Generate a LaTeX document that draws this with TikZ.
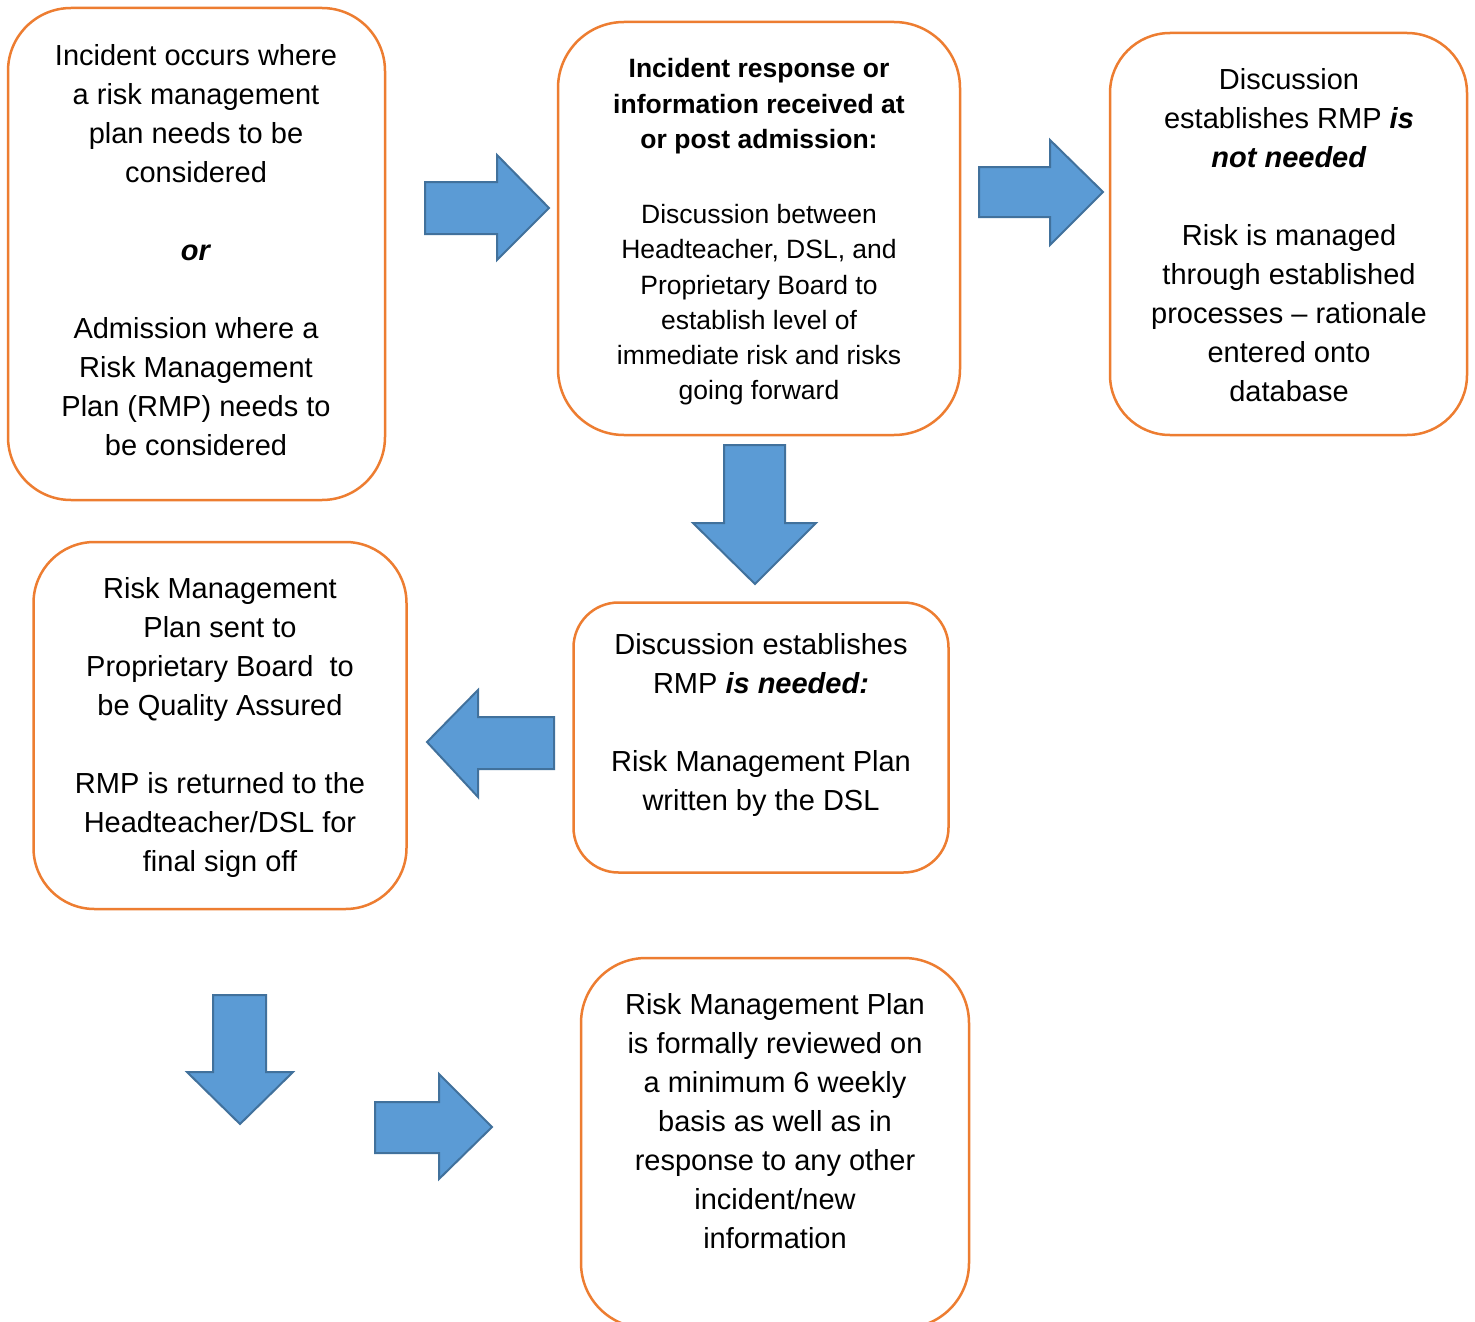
\documentclass[tikz,border=0pt]{standalone}
\usepackage{fontspec}
\setmainfont{Liberation Sans}
\definecolor{boxorange}{HTML}{ED7D31}
\definecolor{arrowfill}{HTML}{5B9BD5}
\definecolor{arrowline}{HTML}{41719C}
\begin{document}
\begin{tikzpicture}[x=1pt,y=-1pt,
  box/.style={draw=boxorange, line width=2.5pt, fill=white, inner sep=0pt},
  txt/.style={align=center, inner sep=0pt, font=\fontsize{29}{39}\selectfont},
  smalltxt/.style={align=center, inner sep=0pt, font=\fontsize{26.5}{35.3}\selectfont},
  barrow/.style={draw=arrowline, line width=2pt, fill=arrowfill, line join=miter}]
\useasboundingbox (0,0) rectangle (1475,1322);
\fill[white] (0,0) rectangle (1475,1322);

% boxes
\node[box, minimum width=377pt, minimum height=492pt, rounded corners=63pt] (boxA) at (196.5,254) {};
\node[box, minimum width=402pt, minimum height=413pt, rounded corners=66pt] (boxB) at (759,228.5) {};
\node[box, minimum width=357pt, minimum height=402pt, rounded corners=60pt] (boxC) at (1288.5,234) {};
\node[box, minimum width=373pt, minimum height=367pt, rounded corners=61pt] (boxD) at (220,725.5) {};
\node[box, minimum width=375pt, minimum height=270pt, rounded corners=45pt] (boxE) at (761,737.5) {};
\begin{scope}
\clip (0,0) rectangle (1475,1322);
\node[box, minimum width=388pt, minimum height=370pt, rounded corners=65pt] (boxF) at (775,1143) {};
\end{scope}

% texts
\node[txt] (tA) at (196,250) {Incident occurs where\\ a risk management\\ plan needs to be\\ considered\\[39pt] \textbf{\textit{or}}\\[39pt] Admission where a\\ Risk Management\\ Plan (RMP) needs to\\ be considered};
\node[smalltxt] (tB) at (759,232) {\textbf{Incident response or}\\ \textbf{information received at}\\ \textbf{or post admission:}\\[39.7pt] Discussion between\\ Headteacher, DSL, and\\ Proprietary Board to\\ establish level of\\ immediate risk and risks\\ going forward};
\node[txt] (tC) at (1289,235) {Discussion\\ establishes RMP \textbf{\textit{is}}\\ \textbf{\textit{not needed}}\\[38.7pt] Risk is managed\\ through established\\ processes – rationale\\ entered onto\\ database};
\node[txt] (tD) at (220,727) {Risk Management\\ Plan sent to\\ Proprietary Board\ \ to\\ be Quality Assured\\[39pt] RMP is returned to the\\ Headteacher/DSL for\\ final sign off};
\node[txt] (tE) at (761,725) {Discussion establishes\\ RMP \textbf{\textit{is needed:}}\\[39pt] Risk Management Plan\\ written by the DSL};
\node[txt] (tF) at (775,1121) {Risk Management Plan\\ is formally reviewed on\\ a minimum 6 weekly\\ basis as well as in\\ response to any other\\ incident/new\\ information};

% block arrows
\draw[barrow] (425,182) -- (497,182) -- (497,155) -- (549,208) -- (497,260) -- (497,234) -- (425,234) -- cycle;
\draw[barrow] (979,167) -- (1050,167) -- (1050,140) -- (1103,192) -- (1050,245) -- (1050,217) -- (979,217) -- cycle;
\draw[barrow] (724,445) -- (785,445) -- (785,523) -- (816,523) -- (755,584) -- (693,523) -- (724,523) -- cycle;
\draw[barrow] (554,717) -- (478,717) -- (478,690) -- (427,742) -- (478,797) -- (478,769) -- (554,769) -- cycle;
\draw[barrow] (213,995) -- (266,995) -- (266,1072) -- (293,1072) -- (240,1124) -- (187,1072) -- (213,1072) -- cycle;
\draw[barrow] (375,1102) -- (439,1102) -- (439,1074) -- (492,1127) -- (439,1179) -- (439,1153) -- (375,1153) -- cycle;
\end{tikzpicture}
\end{document}
